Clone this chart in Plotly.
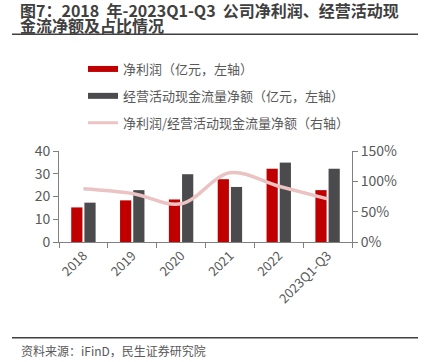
import plotly.graph_objects as go

categories = ["2018", "2019", "2020", "2021", "2022", "2023Q1-Q3"]
net_profit = [15.2, 18.3, 18.7, 27.6, 32.2, 22.8]
op_cash_flow = [17.3, 22.8, 29.8, 24.2, 34.9, 32.2]
ratio = [0.878, 0.80, 0.63, 1.14, 0.92, 0.71]

left_ticks = [0, 10, 20, 30, 40]
right_ticks = [0, 0.5, 1.0, 1.5]

name_np = "净利润（亿元，左轴）"
name_cf = "经营活动现金流量净额（亿元，左轴）"
name_ratio = "净利润/经营活动现金流量净额（右轴）"

RED = "#C00000"
DARK = "#4B4B4D"
PINK = "#EBC3C3"
GRAY_TXT = "#595959"
AXIS = "#808080"
FONT = "Noto Sans CJK SC"

W, H = 432, 362
L, R, T, B = 59, 80, 151, 120
PW, PH = W - L - R, H - T - B


def px(x):
    return (x - L) / PW


def py(y):
    return (H - B - y) / PH


fig = go.Figure()
fig.add_trace(go.Bar(x=categories, y=net_profit, name=name_np, marker_color=RED,
                     marker_line_width=0, showlegend=False, yaxis="y"))
fig.add_trace(go.Bar(x=categories, y=op_cash_flow, name=name_cf, marker_color=DARK,
                     marker_line_width=0, showlegend=False, yaxis="y"))
fig.add_trace(go.Scatter(x=categories, y=ratio, name=name_ratio, mode="lines",
                         line=dict(color=PINK, width=3.5, shape="spline", smoothing=1.0),
                         yaxis="y2", showlegend=False))
# legend entries
for nm, col, w, grp in [(name_np, RED, 6, "a"), (name_cf, DARK, 6, "b"), (name_ratio, PINK, 3, "c")]:
    fig.add_trace(go.Scatter(x=[categories[0]], y=[None], name=nm, mode="lines",
                             line=dict(color=col, width=w), legendgroup=grp, showlegend=True,
                             hoverinfo="skip"))

fig.update_layout(
    width=W, height=H,
    margin=dict(l=L, r=R, t=T, b=B, autoexpand=False),
    paper_bgcolor="white", plot_bgcolor="white",
    font=dict(family=FONT, color=GRAY_TXT, size=13),
    barmode="group", bargap=0.46, bargroupgap=0.15,
    showlegend=True,
    legend=dict(x=83/W, y=1 - 54/H, xref="container", yref="container",
                xanchor="left", yanchor="top", orientation="v",
                font=dict(size=13, color=GRAY_TXT, family=FONT),
                tracegroupgap=7, bgcolor="rgba(0,0,0,0)"),
    xaxis=dict(type="category", showline=True, linecolor=AXIS, linewidth=1, ticks="outside",
               tickson="boundaries", tickcolor=AXIS, ticklen=5, tickangle=-45,
               tickfont=dict(size=13, color=GRAY_TXT), showgrid=False, automargin=False),
    yaxis=dict(range=[0, 40], tickvals=left_ticks, showline=True, linecolor=AXIS,
               ticks="outside", tickcolor=AXIS, ticklen=5, showgrid=False, zeroline=False,
               tickfont=dict(size=14, color=GRAY_TXT), automargin=False),
    yaxis2=dict(range=[0, 1.5], tickvals=right_ticks, tickformat=".0%", overlaying="y",
                side="right", showline=True, linecolor=AXIS, ticks="outside",
                tickcolor=AXIS, ticklen=5, showgrid=False, zeroline=False,
                tickfont=dict(size=14, color=GRAY_TXT), automargin=False),
)

fig.add_annotation(text="<b>图7：2018&nbsp; 年-2023Q1-Q3&nbsp; 公司净利润、经营活动现</b>",
                   xref="paper", yref="paper", x=px(19), y=py(10), xanchor="left", yanchor="middle",
                   align="left", showarrow=False, borderpad=0,
                   font=dict(size=16, color="#404040", family=FONT))
fig.add_annotation(text="<b>金流净额及占比情况</b>",
                   xref="paper", yref="paper", x=px(19), y=py(25), xanchor="left", yanchor="middle",
                   align="left", showarrow=False, borderpad=0,
                   font=dict(size=16, color="#404040", family=FONT))
fig.add_annotation(text="资料来源：iFinD，民生证券研究院",
                   xref="paper", yref="paper", x=px(19), y=py(350), xanchor="left",
                   yanchor="middle", showarrow=False,
                   font=dict(size=12, color=GRAY_TXT, family=FONT))
fig.add_shape(type="line", xref="paper", yref="paper", x0=px(12), x1=px(418),
              y0=py(34.3), y1=py(34.3), line=dict(color="#404040", width=1.5))
fig.add_shape(type="line", xref="paper", yref="paper", x0=px(12), x1=px(418),
              y0=py(337.7), y1=py(337.7), line=dict(color="#404040", width=1.5))

fig.write_html("out.html", config={"displayModeBar": False},
               post_script="document.body.style.margin='0';document.body.style.padding='0';")
